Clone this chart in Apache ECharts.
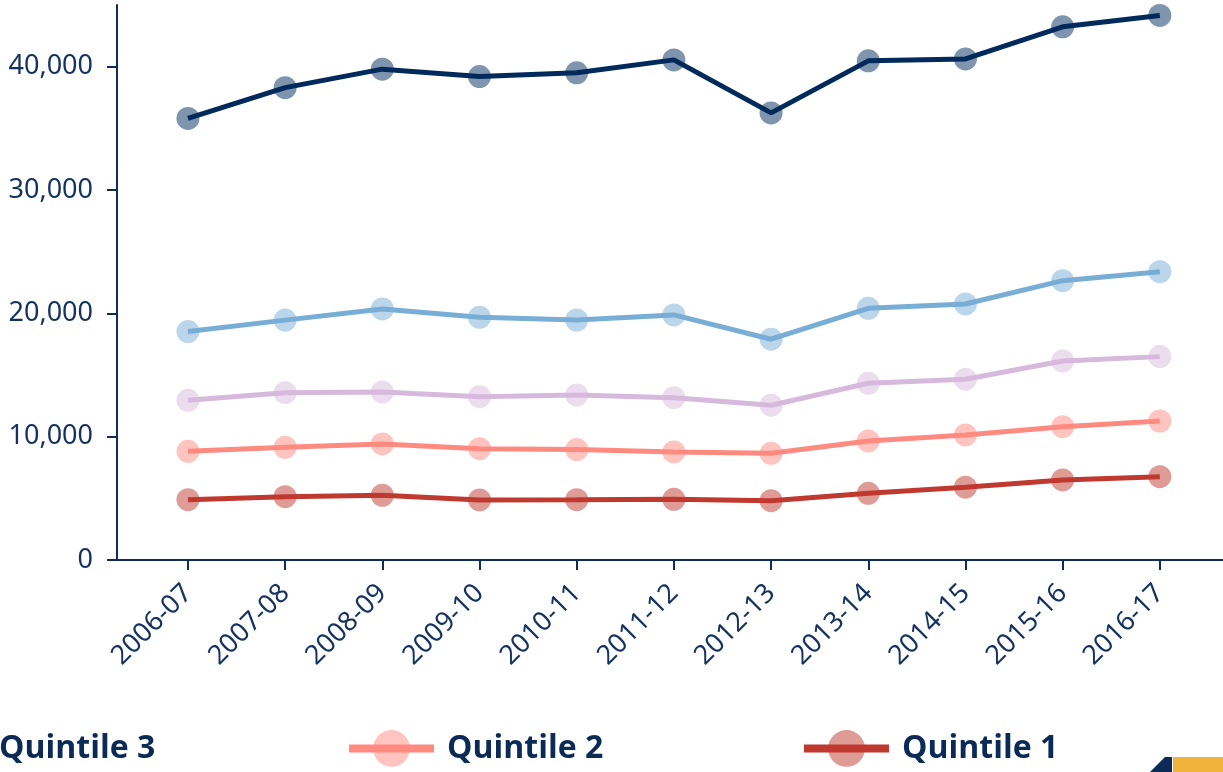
<!DOCTYPE html>
<html>
<head>
<meta charset="utf-8">
<script src="https://cdn.jsdelivr.net/npm/echarts@6/dist/echarts.min.js"></script>
<style>
html,body{margin:0;padding:0;background:#fff;}
#chart{width:1223px;height:772px;}
</style>
</head>
<body>
<div id="chart"></div>
<script>
const categories = ['2006-07','2007-08','2008-09','2009-10','2010-11','2011-12','2012-13','2013-14','2014-15','2015-16','2016-17'];
const quintile5 = [35800, 38300, 39800, 39200, 39500, 40550, 36250, 40470, 40630, 43230, 44150];
const quintile4 = [18520, 19450, 20360, 19680, 19460, 19870, 17900, 20410, 20760, 22650, 23380];
const quintile3 = [12950, 13570, 13630, 13240, 13380, 13160, 12550, 14330, 14660, 16140, 16490];
const quintile2 = [8810, 9140, 9410, 9030, 8950, 8760, 8650, 9650, 10140, 10810, 11270];
const quintile1 = [4890, 5130, 5250, 4870, 4890, 4920, 4810, 5410, 5900, 6490, 6760];
const yTicks = [0, 10000, 20000, 30000, 40000];

const navy = '#0f2d5a';
const catIdx = categories.map((c, i) => i);
const toPts = arr => arr.map((v, i) => [i, v]);

function mkSeries(name, data, line, mark) {
  return {
    name: name,
    type: 'line',
    data: toPts(data),
    symbol: 'circle',
    symbolSize: 23,
    showSymbol: true,
    lineStyle: { color: line, width: 5 },
    itemStyle: { color: mark },
    emphasis: { disabled: true },
    z: 2
  };
}

const legendBase = {
  orient: 'horizontal',
  padding: 0,
  itemWidth: 85,
  itemHeight: 46,
  itemGap: 0,
  selectedMode: false,
  textStyle: { color: '#0b2a55', fontFamily: 'Open Sans', fontWeight: 'bold', fontSize: 32, padding: [0, 0, 0, 8] },
  lineStyle: { width: 8 },
  top: 730
};

const chart = echarts.init(document.getElementById('chart'), null, { renderer: 'canvas' });
chart.setOption({
  animation: false,
  backgroundColor: '#ffffff',
  grid: { left: 117, right: 0, top: 5, bottom: 212, containLabel: false },
  xAxis: {
    type: 'value',
    min: -0.73,
    max: 10.65,
    splitLine: { show: false },
    axisLine: { show: true, onZero: false, lineStyle: { color: navy, width: 2 } },
    axisTick: { show: true, length: 10, lineStyle: { color: navy, width: 2 }, customValues: catIdx },
    axisLabel: {
      customValues: catIdx,
      rotate: 45,
      margin: 29,
      color: '#13325f',
      fontFamily: 'Noto Sans',
      fontSize: 27,
      formatter: v => categories[Math.round(v)] || ''
    }
  },
  yAxis: {
    type: 'value',
    min: 0,
    max: 45000,
    splitLine: { show: false },
    axisLine: { show: true, onZero: false, lineStyle: { color: navy, width: 2 } },
    axisTick: { show: true, length: 10, lineStyle: { color: navy, width: 2 }, customValues: yTicks },
    axisLabel: {
      customValues: yTicks,
      margin: 24,
      color: '#13325f',
      fontFamily: 'Noto Sans',
      fontSize: 27,
      formatter: v => v.toLocaleString('en-US')
    }
  },
  legend: [
    Object.assign({}, legendBase, { left: -103, data: ['Quintile 3'] }),
    Object.assign({}, legendBase, { left: 345, data: ['Quintile 2'] }),
    Object.assign({}, legendBase, { left: 800, data: ['Quintile 1'] })
  ],
  series: [
    mkSeries('Quintile 5', quintile5, '#002a5c', 'rgba(0,42,92,0.5)'),
    mkSeries('Quintile 4', quintile4, '#78aed6', 'rgba(120,174,214,0.5)'),
    mkSeries('Quintile 3', quintile3, '#d7b9de', 'rgba(215,185,222,0.5)'),
    mkSeries('Quintile 2', quintile2, '#ff8a80', 'rgba(255,138,128,0.5)'),
    mkSeries('Quintile 1', quintile1, '#c0392f', 'rgba(192,57,47,0.5)')
  ],
  graphic: [
    { type: 'polygon', shape: { points: [[1150, 772], [1165, 757], [1172, 757], [1172, 772]] }, style: { fill: '#0b2a55' }, silent: true },
    { type: 'rect', shape: { x: 1173, y: 757, width: 50, height: 15 }, style: { fill: '#f0b43c' }, silent: true }
  ]
});
</script>
</body>
</html>
